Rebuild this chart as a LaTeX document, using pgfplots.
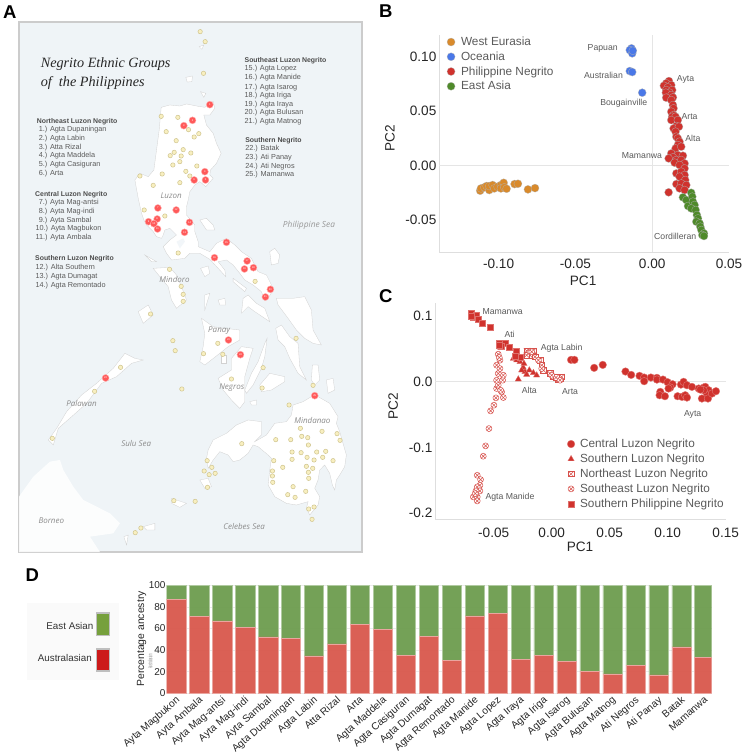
\documentclass[border=0pt]{standalone}
\usepackage{pgfplots}
\usepackage{fontspec}
\pgfplotsset{compat=1.18}
\usetikzlibrary{plotmarks}
\setmainfont{Liberation Sans}
\newfontfamily\titlefont{Liberation Serif}
\newfontfamily\mapfont{Open Sans}
\definecolor{sea}{HTML}{EFF4F7}
\definecolor{pcorange}{HTML}{D98A2B}
\definecolor{pcblue}{HTML}{4A78E8}
\definecolor{pcred}{HTML}{D0322D}
\definecolor{pcgreen}{HTML}{4F8A2A}
\definecolor{barred}{HTML}{D95B50}
\definecolor{bargreen}{HTML}{709E52}
\definecolor{txtgray}{HTML}{5A5A5A}
\definecolor{vfill}{HTML}{F8EFC0}
\definecolor{vdraw}{HTML}{CFC48E}
\newcommand{\fs}[1]{\fontsize{#1}{#1}\selectfont}
\pgfdeclareplotmark{boxx}{%
 \pgfpathrectangle{\pgfqpoint{-\pgfplotmarksize}{-\pgfplotmarksize}}{\pgfqpoint{2\pgfplotmarksize}{2\pgfplotmarksize}}%
 \pgfusepathqfillstroke
 \pgfpathmoveto{\pgfqpoint{-\pgfplotmarksize}{-\pgfplotmarksize}}\pgfpathlineto{\pgfqpoint{\pgfplotmarksize}{\pgfplotmarksize}}%
 \pgfpathmoveto{\pgfqpoint{-\pgfplotmarksize}{\pgfplotmarksize}}\pgfpathlineto{\pgfqpoint{\pgfplotmarksize}{-\pgfplotmarksize}}%
 \pgfusepathqstroke}
\pgfplotsset{
 land/.style={fill=white,draw=black!18,line width=0.3pt,forget plot},
 pca/.style={scale only axis,clip=false,axis lines=left,axis line style={-,draw=black!13,line width=0.8pt},
   tick style={draw=none},
   tick label style={font=\fs{13.6},text=black!85},
   y tick label style={xshift=3pt},
   /pgf/number format/assume math mode=true},
 zline/.style={black!10,line width=0.4pt,forget plot},
 pt/.style={only marks,mark=*,mark size=4pt,mark options={fill=#1,draw=white!70!black,draw opacity=0.75,line width=0.4pt}},
 every axis legend/.append style={draw=none,fill=none,inner sep=0pt,outer sep=0pt},
}
\pgfplotstableread{
x red green
0 87.0 13.0
1 71.0 29.0
2 67.0 33.0
3 60.8 39.2
4 52.2 47.8
5 51.2 48.8
6 34.6 65.4
7 45.7 54.3
8 63.6 36.4
9 59.3 40.7
10 34.9 65.1
11 52.8 47.2
12 30.2 69.8
13 71.6 28.4
14 74.0 26.0
15 31.5 68.5
16 35.2 64.8
17 29.6 70.4
18 20.4 79.6
19 17.9 82.1
20 26.2 73.8
21 17.0 83.0
22 42.9 57.1
23 33.0 67.0
}\ancestry
\newcommand{\LT}[4][txtgray]{\node[anchor=west,inner sep=0pt,text=#1,font=\fs{#2}] at (axis cs:#3) {#4};}
\begin{document}
\begin{tikzpicture}
\useasboundingbox (0,0) rectangle (747pt,754pt);
%%%%%%%%%%%%%% A
\begin{axis}[name=A,at={(19pt,202pt)},anchor=south west,scale only axis,width=343pt,height=530pt,
 xmin=57,xmax=1087,ymin=66,ymax=1656,y dir=reverse,ticks=none,clip=true,
 axis line style={draw=black!20,line width=1.5pt},axis background/.style={fill=sea}]
% Borneo
\addplot[fill=white,fill opacity=0.85,draw=none,forget plot] coordinates {(57,1490)(100,1430)(150,1385)(180,1380)(190,1410)(220,1460)(250,1500)(330,1540)(360,1570)(340,1600)(270,1610)(300,1656)(57,1656)} --cycle;
% Luzon
\addplot[land] coordinates {(484,322)(510,315)(540,318)(560,312)(590,318)(615,322)(640,304)(645,325)(630,345)(612,345)(620,375)(640,400)(650,430)(664,460)(650,490)(632,510)(630,525)(640,535)(618,560)(600,545)(585,555)(570,575)(565,600)(560,620)(560,645)(585,675)(585,695)(595,725)(595,740)(630,755)(650,730)(680,715)(705,735)(725,755)(755,775)(775,815)(800,825)(815,855)(820,870)(805,895)(795,902)(785,875)(760,855)(735,840)(720,820)(700,795)(680,780)(655,785)(675,810)(678,830)(655,805)(630,778)(600,760)(570,760)(555,775)(515,780)(500,760)(490,740)(510,720)(530,705)(510,685)(495,690)(490,705)(485,715)(470,710)(460,695)(440,675)(432,660)(425,640)(415,595)(405,540)(420,520)(445,530)(462,510)(470,450)(478,390)} --cycle;
\addplot[fill=sea!80!white,draw=none,forget plot] coordinates {(530,725)(550,715)(555,725)(540,745)} --cycle;
% Mindoro
\addplot[land] coordinates {(460,805)(510,802)(530,825)(545,860)(560,900)(530,925)(515,900)(505,860)(480,830)} --cycle;
% Catanduanes
\addplot[land] coordinates {(810,755)(825,745)(840,765)(835,790)(815,795)} --cycle;
% small islands
\addplot[land] coordinates {(602,805)(625,798)(630,820)(615,830)} --cycle;
\addplot[land] coordinates {(600,660)(620,655)(640,675)(645,690)(620,690)} --cycle;
\addplot[land] coordinates {(435,765)(470,785)(455,785)} --cycle;
\addplot[land] coordinates {(615,885)(630,880)(615,930)} --cycle;
\addplot[land] coordinates {(655,900)(675,895)(678,915)(660,915)} --cycle;
\addplot[land] coordinates {(700,835)(740,865)(735,875)(700,845)} --cycle;
\addplot[land] coordinates {(558,232)(578,228)(576,245)(562,246)} --cycle;
\addplot[land] coordinates {(602,275)(618,280)(612,292)} --cycle;
\addplot[land] coordinates {(598,140)(612,135)(606,148)} --cycle;
\addplot[land] coordinates {(750,1205)(770,1200)(770,1215)(755,1215)} --cycle;
\addplot[land] coordinates {(938,1095)(955,1095)(960,1140)(945,1155)(935,1140)} --cycle;
\addplot[land] coordinates {(980,1140)(1000,1135)(1005,1170)(985,1180)} --cycle;
% Masbate
\addplot[land] coordinates {(730,895)(745,885)(770,910)(795,925)(810,965)(795,955)(765,935)(745,920)(725,940)} --cycle;
% Samar
\addplot[land] coordinates {(830,895)(880,895)(915,890)(935,930)(940,990)(965,1035)(940,1030)(915,1015)(890,990)(865,955)(835,915)} --cycle;
% Leyte
\addplot[land] coordinates {(828,985)(845,975)(870,1010)(895,1030)(900,1100)(920,1140)(895,1120)(870,1075)(855,1040)(835,1020)} --cycle;
% Panay
\addplot[land] coordinates {(605,955)(640,980)(675,985)(720,990)(720,1020)(685,1040)(660,1060)(615,1095)(600,1085)(610,1040)(615,1000)} --cycle;
\addplot[land] coordinates {(665,1065)(678,1065)(678,1090)(665,1090)} --cycle;
% Negros
\addplot[land] coordinates {(695,1075)(725,1040)(760,1045)(750,1075)(735,1130)(735,1170)(735,1205)(720,1225)(695,1200)(670,1170)(655,1135)(695,1110)} --cycle;
% Cebu
\addplot[land] coordinates {(802,1015)(795,1070)(785,1105)(760,1155)(740,1180)(735,1170)(755,1120)(775,1085)(795,1030)} --cycle;
% Bohol
\addplot[land] coordinates {(780,1155)(810,1120)(855,1130)(855,1145)(815,1170)(785,1175)} --cycle;
% Palawan
\addplot[land] coordinates {(145,1320)(170,1285)(200,1235)(245,1185)(290,1150)(340,1105)(375,1060)(405,1075)(430,1080)(395,1090)(350,1130)(305,1150)(260,1210)(215,1250)(175,1285)(160,1335)} --cycle;
\addplot[land] coordinates {(415,935)(445,915)(460,945)(430,970)} --cycle;
% Mindanao
\addplot[land] coordinates {(935,1190)(955,1190)(990,1210)(1015,1250)(1010,1270)(1020,1295)(1030,1330)(1040,1365)(1035,1400)(1020,1425)(1010,1440)(1005,1470)(998,1455)(990,1420)(975,1395)(960,1410)(955,1440)(945,1465)(960,1490)(955,1515)(930,1545)(920,1525)(925,1505)(890,1515)(860,1510)(825,1490)(805,1455)(810,1410)(815,1375)(805,1365)(775,1340)(760,1335)(745,1360)(720,1380)(700,1385)(685,1365)(660,1355)(640,1380)(625,1405)(620,1375)(625,1350)(640,1320)(680,1300)(710,1275)(745,1260)(785,1265)(785,1305)(765,1325)(800,1305)(825,1270)(860,1265)(875,1245)(880,1215)(910,1205)} --cycle;
% Sulu
\addplot[land] coordinates {(600,1440)(625,1435)(635,1460)(615,1465)} --cycle;
\addplot[land] coordinates {(515,1495)(560,1510)(540,1522)(515,1510)} --cycle;
\addplot[land] coordinates {(430,1580)(465,1570)(465,1590)(440,1590)} --cycle;
\addplot[land] coordinates {(372,1610)(385,1605)(380,1635)} --cycle;
% villages
\addplot[only marks,mark=*,mark size=2.2pt,mark options={fill=vfill,draw=vdraw,line width=0.5pt},forget plot] coordinates {
(601,95)(616,125)(611,220)(484,349)(534,352)(566,389)(499,395)(597,401)(583,411)(529,422)(550,449)(523,457)(511,467)(544,468)(573,459)(540,485)(519,495)(591,498)(558,514)(487,522)(570,528)(540,548)(420,528)(460,556)(433,630)(495,648)(535,759)(509,808)(544,859)(766,844)
(550,883)(550,904)(452,942)(519,1022)(526,1052)(654,1030)(611,1061)(669,1063)(889,1015)(790,1103)(362,1102)(284,1174)(695,1137)(546,1167)(787,1164)(940,1156)(868,1215)(157,1315)(902,1285)(967,1294)(1012,1301)(1021,1321)(906,1309)(924,1313)(828,1319)(873,1319)(926,1335)(726,1331)(877,1356)(904,1358)(951,1356)(978,1354)(922,1372)(877,1378)(943,1380)(969,1372)(1000,1382)(822,1382)(622,1382)(636,1402)(613,1413)(628,1424)(646,1420)(849,1402)(920,1399)(939,1405)(926,1417)(818,1413)(818,1428)(819,1447)(927,1435)(880,1460)(918,1474)(864,1484)(886,1492)(623,1462)(522,1502)(586,1504)(927,1527)(943,1521)(937,1558)(423,1584)(406,1598)};
% groups
\addplot[only marks,mark=*,mark size=3.5pt,mark options={fill=red!65!white,draw=red!30!white,line width=0.4pt},point meta=explicit symbolic,nodes near coords,nodes near coords style={font=\fs{2.6},text=white,anchor=center,inner sep=0pt},forget plot] table[meta=l] {
x y l
630 314 1
578 361 2
552 377 3
615 515 4
617 540 5
583 540 6
474 624 7
472 657 8
446 665 9
462 671 10
473 687 11
529 630 12
554 697 13
569 667 14
680 727 15
644 773 16
742 783 17
761 803 18
734 807 19
812 868 20
797 891 21
317 1134 22
686 1020 23
722 1064 24
945 1187 25
};
% title
\node[anchor=west,inner sep=0pt,font=\titlefont\itshape\fs{14.2},text=black!85] at (axis cs:122,192) {Negrito Ethnic Groups};
\node[anchor=west,inner sep=0pt,font=\titlefont\itshape\fs{14.2},text=black!85] at (axis cs:122,250) {of\ \ the Philippines};
% lists
\LT[black!70]{6.9}{110,364}{\bfseries Northeast Luzon Negrito}
\LT{7.3}{116,389}{1.) Agta Dupaningan}
\LT{7.3}{116,416}{2.) Agta Labin}
\LT{7.3}{116,442}{3.) Atta Rizal}
\LT{7.3}{116,468}{4.) Agta Maddela}
\LT{7.3}{116,495}{5.) Agta Casiguran}
\LT{7.3}{116,520}{6.) Arta}
\LT[black!70]{6.9}{105,583}{\bfseries Central Luzon Negrito}
\LT{7.3}{116,608}{7.) Ayta Mag-antsi}
\LT{7.3}{116,636}{8.) Ayta Mag-indi}
\LT{7.3}{116,662}{9.) Ayta Sambal}
\LT{7.3}{106,687}{10.) Ayta Magbukon}
\LT{7.3}{106,714}{11.) Ayta Ambala}
\LT[black!70]{6.9}{105,777}{\bfseries Southern Luzon Negrito}
\LT{7.3}{106,802}{12.) Alta Southern}
\LT{7.3}{106,829}{13.) Agta Dumagat}
\LT{7.3}{106,856}{14.) Agta Remontado}
\LT[black!70]{6.9}{734,182}{\bfseries Southeast Luzon Negrito}
\LT{7.3}{734,207}{15.) Agta Lopez}
\LT{7.3}{734,234}{16.) Agta Manide}
\LT{7.3}{734,262}{17.) Agta Isarog}
\LT{7.3}{734,287}{18.) Agta Iriga}
\LT{7.3}{734,314}{19.) Agta Iraya}
\LT{7.3}{734,338}{20.) Agta Bulusan}
\LT{7.3}{734,366}{21.) Agta Matnog}
\LT[black!70]{6.9}{736,421}{\bfseries Southern Negrito}
\LT{7.3}{736,446}{22.) Batak}
\LT{7.3}{736,473}{23.) Ati Panay}
\LT{7.3}{736,500}{24.) Ati Negros}
\LT{7.3}{736,525}{25.) Mamanwa}
% map names
\node[font=\mapfont\itshape\fs{8},text=black!45] at (axis cs:514,588) {Luzon};
\node[font=\mapfont\itshape\fs{8},text=black!45] at (axis cs:524,838) {Mindoro};
\node[font=\mapfont\itshape\fs{8},text=black!45] at (axis cs:658,992) {Panay};
\node[font=\mapfont\itshape\fs{8},text=black!45] at (axis cs:696,1163) {Negros};
\node[font=\mapfont\itshape\fs{8},text=black!45] at (axis cs:245,1211) {Palawan};
\node[font=\mapfont\itshape\fs{8},text=black!45] at (axis cs:409,1329) {Sulu Sea};
\node[font=\mapfont\itshape\fs{8},text=black!45] at (axis cs:154,1562) {Borneo};
\node[font=\mapfont\itshape\fs{8},text=black!45] at (axis cs:733,1580) {Celebes Sea};
\node[font=\mapfont\itshape\fs{8},text=black!45] at (axis cs:938,1260) {Mindanao};
\node[font=\mapfont\itshape\fs{8.4},text=black!40] at (axis cs:928,675) {Philippine Sea};
\end{axis}
%%%%%%%%%%%%%% B
\begin{axis}[pca,at={(439pt,502pt)},anchor=south west,width=290pt,height=217pt,
 xmin=-0.1388,xmax=0.05,ymin=-0.0797,ymax=0.12,
 xtick={-0.10,-0.05,0,0.05},ytick={-0.05,0,0.05,0.10},
 x tick label style={yshift=-1pt},
 xticklabel style={/pgf/number format/.cd,fixed,fixed zerofill,precision=2},
 yticklabel style={/pgf/number format/.cd,fixed,fixed zerofill,precision=2},
 xlabel={PC1},ylabel={PC2},
 every axis x label/.style={at={(axis description cs:0.497,-0.134)},anchor=center,font=\fs{13.6},text=black!85},
 every axis y label/.style={at={(axis description cs:-0.169,0.525)},anchor=center,rotate=90,font=\fs{13.6},text=black!85},
 legend style={at={(axis description cs:0.014,1.0)},anchor=north west,font=\fs{11.8},text=txtgray,row sep=0.7pt},
 legend cell align=left,
 legend image code/.code={\path[draw=none,fill=none] (0pt,0pt) -- (16pt,0pt);\draw[mark repeat=2,mark phase=2,#1] plot coordinates {(0pt,0pt)(8pt,0pt)(16pt,0pt)};}]
\addplot[zline] coordinates {(-0.1388,0)(0.05,0)};
\addplot[zline] coordinates {(0,-0.0797)(0,0.12)};
\addplot[pt=pcorange] coordinates {(-.1120,-.0233)(-.1115,-.0212)(-.1093,-.0202)(-.1078,-.0190)(-.1061,-.0227)(-.1061,-.0190)(-.1039,-.0181)(-.1028,-.0212)(-.1007,-.0196)(-.0985,-.0181)(-.0985,-.0212)(-.0967,-.0160)(-.0963,-.0202)(-.0948,-.0215)(-.0896,-.0172)(-.0874,-.0169)(-.0809,-.0221)(-.0763,-.0209)};
\addlegendentry{West Eurasia}
\addplot[pt=pcblue] coordinates {(-.0135,.1077)(-.0146,.1061)(-.0130,.1031)(-.0126,.1055)(-.0146,.0868)(-.0130,.0859)(-.0065,.0669)};
\addlegendentry{Oceania}
\addplot[pt=pcred] coordinates {(.0109,.0776)(.0091,.0755)(.0076,.0733)(.0124,.0739)(.0102,.0718)(.0091,.0693)(.0130,.0693)(.0113,.0669)(.0089,.0669)(.0124,.0647)(.0091,.0623)(.0135,.0626)(.0124,.0601)(.0135,.0555)(.0139,.0525)(.0124,.0494)(.0139,.0463)(.0130,.0448)(.0152,.0448)(.0124,.0417)(.0167,.0417)(.0157,.0362)(.0139,.0340)(.0174,.0356)(.0152,.0310)(.0157,.0264)(.0167,.0248)(.0178,.0218)(.0167,.0187)(.0152,.0156)(.0189,.0172)(.0124,.0110)(.0167,.0095)(.0200,.0089)(.0135,.0074)(.0107,.0064)(.0157,.0049)(.0189,.0049)(.0146,.0025)(.0211,.0018)(.0178,.0003)(.0211,-.0028)(.0157,-.0074)(.0189,-.0058)(.0211,-.0089)(.0178,-.0104)(.0215,-.0135)(.0157,-.0172)(.0189,-.0166)(.0222,-.0181)(.0178,-.0212)(.0211,-.0227)(.0107,-.0248)};
\addlegendentry{Philippine Negrito}
\addplot[pt=pcgreen] coordinates {(.0200,-.0294)(.0254,-.0252)(.0222,-.0319)(.0261,-.0288)(.0233,-.0374)(.0265,-.0334)(.0276,-.0365)(.0254,-.0396)(.0283,-.0411)(.0291,-.0457)(.0298,-.0488)(.0287,-.0518)(.0309,-.0534)(.0313,-.0564)(.0320,-.0595)(.0337,-.0626)(.0326,-.0641)(.0337,-.0650)};
\addlegendentry{East Asia}
\foreach \t/\p in {Papuan/{-.0322,.1074},Australian/{-.0317,.0825},Bougainville/{-.0185,.0574},Ayta/{.0217,.0794},Arta/{.0243,.0448},Alta/{.0265,.0248},Mamanwa/{-.0067,.0086},Cordilleran/{.0150,-.0653}}{
 \edef\tmp{\noexpand\node[font=\noexpand\fs{8.7},text=txtgray,inner sep=0pt] at (axis cs:\p) {\t};}\tmp
}
\end{axis}
%%%%%%%%%%%%%% C
\begin{axis}[pca,at={(435pt,235pt)},anchor=south west,width=290.7pt,height=216.3pt,
 xmin=-0.1006,xmax=0.15,ymin=-0.2087,ymax=0.1197,
 xtick={-0.05,0,0.05,0.10,0.15},ytick={-0.2,-0.1,0,0.1},
 x tick label style={yshift=-3pt},
 xticklabel style={/pgf/number format/.cd,fixed,fixed zerofill,precision=2},
 yticklabel style={/pgf/number format/.cd,fixed,fixed zerofill,precision=1},
 xlabel={PC1},ylabel={PC2},
 every axis x label/.style={at={(axis description cs:0.499,-0.128)},anchor=center,font=\fs{13.6},text=black!85},
 every axis y label/.style={at={(axis description cs:-0.144,0.522)},anchor=center,rotate=90,font=\fs{13.6},text=black!85},
 legend style={at={(axis description cs:0.444,0.379)},anchor=north west,font=\fs{11.8},text=txtgray,row sep=0.9pt},
 legend cell align=left,
 legend image code/.code={\path[draw=none,fill=none] (0pt,0pt) -- (14pt,0pt);\draw[mark repeat=2,mark phase=2,#1] plot coordinates {(0pt,0pt)(7pt,0pt)(14pt,0pt)};}]
\addplot[zline] coordinates {(-0.1006,0)(0.15,0)};
\addplot[only marks,mark=*,mark size=3.8pt,mark options={fill=pcred,draw=pcred!65!white,line width=0.4pt}] coordinates {(.0167,.0329)(.0196,.0329)(.0366,.0208)(.0440,.0253)(.0636,.0152)(.0685,.0101)(.0757,.0086)(.0797,.0061)(.0797,.0005)(.0855,.0061)(.0907,.0056)(.0907,.0030)(.0959,.0030)(.0999,-.0010)(.1042,-.0041)(.1022,-.0091)(.1007,-.0106)(.0936,-.0157)(.0930,-.0208)(.0976,-.0223)(.1114,-.0046)(.1137,-.0005)(.1166,-.0056)(.1209,-.0081)(.1085,-.0223)(.1123,-.0233)(.1151,-.0208)(.1166,-.0243)(.1267,-.0106)(.1310,-.0091)(.1324,-.0081)(.1353,-.0132)(.1339,-.0208)(.1295,-.0258)(.1347,-.0258)(.1382,-.0182)(.1416,-.0147)(.1310,-.0132)(.1281,-.0122)};
\addlegendentry{Central Luzon Negrito}
\addplot[only marks,mark=triangle*,mark size=3.6pt,mark options={fill=pcred,draw=pcred!70!white,line width=0.3pt}] coordinates {(-.0288,.0035)(-.0331,.0349)(-.0302,.0385)(-.0273,.0299)(-.0245,.0213)(-.0230,.0147)(-.0193,.0172)(-.0158,.0132)(-.0216,.0106)(-.0130,.0096)(-.0259,.0172)(-.0239,.0273)(-.0302,.0324)};
\addlegendentry{Southern Luzon Negrito}
\addplot[only marks,mark=boxx,mark size=2.8pt,mark options={fill=white,draw=pcred!85!white,line width=0.5pt}] coordinates {(-.0216,.0466)(-.0158,.0466)(-.0187,.0400)(-.0144,.0375)(-.0101,.0324)(-.0086,.0248)(-.0072,.0172)(-.0014,.0122)(.0014,.0071)(.0072,.0046)(.0058,.0030)(.0037,.0061)(.0086,.0071)(-.0216,.0400)};
\addlegendentry{Northeast Luzon Negrito}
\addplot[only marks,mark=otimes*,mark size=3pt,mark options={fill=white,draw=pcred!85!white,line width=0.5pt}] coordinates {(-.0642,-.1423)(-.0613,-.1489)(-.0619,-.1575)(-.0642,-.1600)(-.0619,-.1661)(-.0653,-.1661)(-.0676,-.1752)(-.0642,-.1752)(-.0642,-.1813)(-.0659,-.1701)(-.0590,-.1134)(-.0570,-.0977)(-.0541,-.0714)(-.0527,-.0446)(-.0498,-.0359)(-.0481,-.0248)(-.0417,-.0243)(-.0432,-.0157)(-.0475,-.0106)(-.0461,-.0056)(-.0423,.0020)(-.0475,.0020)(-.0417,.0096)(-.0461,.0122)(-.0475,.0248)(-.0446,.0324)(-.0461,.0415)(-.0452,.0527)(-.0440,-.0132)(-.0446,.0197)(-.0452,.0365)(-.0187,.0451)(-.0172,.0451)(-.0115,.0324)(-.0086,.0197)(0,.0096)(.0072,.0020)};
\addlegendentry{Southeast Luzon Negrito}
\addplot[only marks,mark=square*,mark size=3pt,mark options={fill=pcred,draw=pcred!70!white,line width=0.3pt}] coordinates {(-.0697,.1033)(-.0676,.0982)(-.0648,.1008)(-.0633,.0942)(-.0596,.0891)(-.0533,.0830)(-.0691,.0992)(-.0455,.0587)(-.0403,.0587)(-.0432,.0537)(-.0366,.0527)(-.0308,.0461)(-.0268,.0365)(-.0452,.0552)(-.0317,.0385)};
\addlegendentry{Southern Philippine Negrito}
\foreach \t/\p in {Mamanwa/{-.0423,.1068},Ati/{-.0363,.0714},Agta Labin/{.0086,.0511},Alta/{-.0193,-.0137},Arta/{.0158,-.0147},Ayta/{.1215,-.0506},Agta Manide/{-.0360,-.1762}}{
 \edef\tmp{\noexpand\node[font=\noexpand\fs{8.7},text=txtgray,inner sep=0pt] at (axis cs:\p) {\t};}\tmp
}
\end{axis}
%%%%%%%%%%%%%% D
\begin{axis}[at={(166.7pt,60.7pt)},anchor=south west,scale only axis,width=545pt,height=108pt,
 ybar stacked,bar width=19.3pt,xmin=-0.418,xmax=23.32,ymin=0,ymax=100,
 axis line style={draw=none},tick style={draw=none},
 ymajorgrids,grid style={black!8},
 ytick={0,20,40,60,80,100},xtick={0,...,23},
 xticklabels={Ayta Magbukon,Ayta Ambala,Ayta Mag-antsi,Ayta Mag-indi,Ayta Sambal,Agta Dupaningan,Agta Labin,Atta Rizal,Arta,Agta Maddela,Agta Casiguran,Agta Dumagat,Agta Remontado,Agta Manide,Agta Lopez,Agta Iraya,Agta Iriga,Agta Isarog,Agta Bulusan,Agta Matnog,Ati Negros,Ati Panay,Batak,Mamanwa},
 x tick label style={rotate=41,anchor=north east,font=\fs{10.2},inner sep=1pt,xshift=-1pt,text=black!85},
 y tick label style={font=\fs{10},inner sep=1pt,text=black!85},
 /pgf/number format/assume math mode=true,
 ylabel={Percentage ancestry},
 every axis y label/.style={at={(axis description cs:-0.046,0.503)},anchor=center,rotate=90,font=\fs{10.4},text=black!85}]
\addplot[fill=barred,draw=barred!55!white,line width=0.5pt,fill opacity=0.97] table[x=x,y=red] {\ancestry};
\addplot[fill=bargreen,draw=bargreen!55!white,line width=0.5pt,fill opacity=0.97] table[x=x,y=green] {\ancestry};
\end{axis}
% D legend and extras
\fill[black!2] (27pt,74pt) rectangle (119pt,151.3pt);
\draw[black!25,line width=1.5pt,fill={rgb,255:red,118;green,160;blue,60}] (96.5pt,118.5pt) rectangle (109.5pt,141pt);
\draw[black!25,line width=1.5pt,fill={rgb,255:red,204;green,26;blue,26}] (96.5pt,83pt) rectangle (109.5pt,105pt);
\node[anchor=east,inner sep=0pt,font=\fs{9.8},text=black!80] at (93.5pt,128.3pt) {East Asian};
\node[anchor=east,inner sep=0pt,font=\fs{9.8},text=black!80] at (92pt,96pt) {Australasian};
\node[rotate=90,inner sep=0pt,font=\fs{4.5},text=black!45,xscale=0.6,yscale=1.4] at (150pt,92.5pt) {Australasian};
% panel letters
\node[anchor=west,inner sep=0pt,font=\bfseries\fs{18.5}] at (3pt,742pt) {A};
\node[anchor=west,inner sep=0pt,font=\bfseries\fs{18.5}] at (379pt,743pt) {B};
\node[anchor=west,inner sep=0pt,font=\bfseries\fs{18.5}] at (379pt,458pt) {C};
\node[anchor=west,inner sep=0pt,font=\bfseries\fs{18.5}] at (25.5pt,179pt) {D};
\end{tikzpicture}
\end{document}
